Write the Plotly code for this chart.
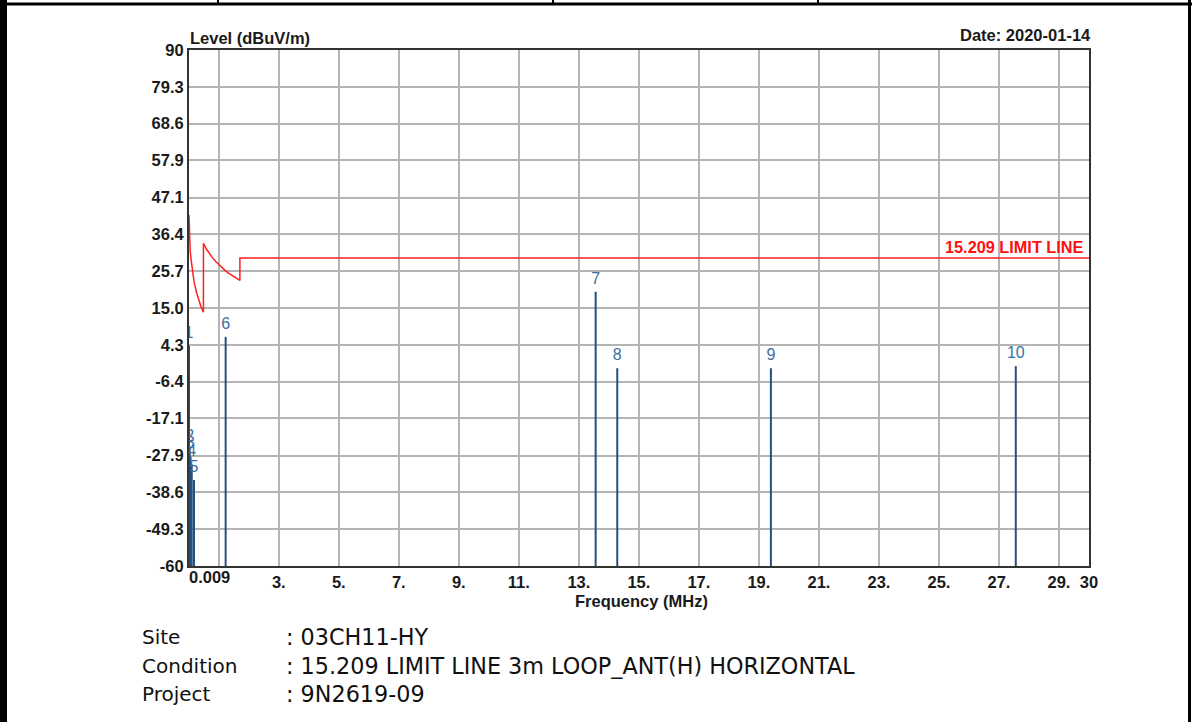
import plotly.graph_objects as go

# ---- data -------------------------------------------------------------
# 15.209 limit line (frequency in MHz, level in dBuV/m)
limit_freq = [0.009, 0.03, 0.05, 0.08, 0.12, 0.18, 0.26, 0.34, 0.42, 0.49,
              0.49, 0.6, 0.7, 0.8, 0.9, 1.0, 1.1, 1.2, 1.3, 1.4, 1.5, 1.6, 1.705,
              1.705, 30.0]
limit_level = [42.0, 36.0, 31.5, 29.0, 25.8, 22.5, 19.5, 17.0, 15.1, 13.8,
               33.8, 32.0, 30.7, 29.5, 28.5, 27.6, 26.8, 26.0, 25.3, 24.7, 24.1, 23.5, 23.0,
               29.5, 29.5]

# measured peaks
peak_no = ["1", "2", "3", "4", "5", "6", "7", "8", "9", "10"]
peak_freq = [0.009, 0.03, 0.06, 0.10, 0.176, 1.23, 13.56, 14.28, 19.40, 27.56]
peak_level = [4.0, -26.0, -28.2, -30.4, -35.0, 6.6, 19.7, -2.5, -2.5, -1.9]

y_ticks = [90, 79.3, 68.6, 57.9, 47.1, 36.4, 25.7, 15.0, 4.3, -6.4, -17.1, -27.9, -38.6, -49.3, -60]
y_tick_text = ["90", "79.3", "68.6", "57.9", "47.1", "36.4", "25.7", "15.0", "4.3",
               "-6.4", "-17.1", "-27.9", "-38.6", "-49.3", "-60"]
x_ticks = [1, 3, 5, 7, 9, 11, 13, 15, 17, 19, 21, 23, 25, 27, 29, 30]
x_tick_text = ["", "3.", "5.", "7.", "9.", "11.", "13.", "15.", "17.", "19.", "21.",
               "23.", "25.", "27.", "29.", "30"]

info_keys = ["Site", "Condition", "Project"]
info_vals = [": 03CH11-HY", ": 15.209 LIMIT LINE 3m LOOP_ANT(H) HORIZONTAL", ": 9N2619-09"]

# ---- layout geometry (pixels) -----------------------------------------
W, H = 1192, 722
L, R, T, B = 189, 1089, 50, 566


def px(x):
    return (x - L) / (R - L)


def py(y):
    return (B - y) / (B - T)


BOLD = "Liberation Sans"
BAR_COLOR = "#24507f"
LABEL_COLOR = "#3d6ea3"

fig = go.Figure()

# peak sticks
sx, sy = [], []
for f, v in zip(peak_freq, peak_level):
    sx += [f, f, None]
    sy += [-60, v, None]
fig.add_trace(go.Scatter(x=sx, y=sy, mode="lines", line=dict(color=BAR_COLOR, width=2),
                         hoverinfo="skip", showlegend=False))

# peak numbers (invisible markers give the text a small lift), clipped to the plot area
fig.add_trace(go.Scatter(x=peak_freq, y=peak_level, mode="markers+text", text=peak_no,
                         textposition="top center", cliponaxis=True,
                         marker=dict(size=5, color="rgba(0,0,0,0)"),
                         textfont=dict(family="Liberation Sans", size=16, color=LABEL_COLOR),
                         hoverinfo="skip", showlegend=False))

# limit line
fig.add_trace(go.Scatter(x=limit_freq, y=limit_level, mode="lines",
                         line=dict(color="#ff2020", width=1.5), showlegend=False))

annotations = [
    dict(xref="paper", yref="paper", x=px(188), y=py(38), text="<b>Level (dBuV/m)</b>",
         showarrow=False, xanchor="left", yanchor="middle",
         font=dict(family=BOLD, size=16.5, color="#1a1a1a")),
    dict(xref="paper", yref="paper", x=px(1093), y=py(35), text="<b>Date: 2020-01-14</b>",
         showarrow=False, xanchor="right", yanchor="middle",
         font=dict(family=BOLD, size=16.5, color="#1a1a1a")),
    dict(xref="paper", yref="paper", x=px(641), y=py(601), text="<b>Frequency (MHz)</b>",
         showarrow=False, xanchor="center", yanchor="middle",
         font=dict(family=BOLD, size=16.5, color="#1a1a1a")),
    dict(xref="paper", yref="paper", x=px(187), y=py(577), text="<b>0.009</b>",
         showarrow=False, xanchor="left", yanchor="middle",
         font=dict(family=BOLD, size=16.5, color="#1a1a1a")),
    dict(xref="paper", yref="paper", x=px(1086), y=py(247), text="<b>15.209 LIMIT LINE</b>",
         showarrow=False, xanchor="right", yanchor="middle",
         font=dict(family=BOLD, size=16.3, color="#ff1010")),
]

for i, (k, v) in enumerate(zip(info_keys, info_vals)):
    yy = py(637 + 28.5 * i)
    annotations.append(dict(xref="paper", yref="paper", x=px(140), y=yy, text=k,
                            showarrow=False, xanchor="left", yanchor="middle",
                            font=dict(family="DejaVu Sans", size=20, color="#111")))
    annotations.append(dict(xref="paper", yref="paper", x=px(284), y=yy, text=v,
                            showarrow=False, xanchor="left", yanchor="middle",
                            font=dict(family="DejaVu Sans", size=22.3, color="#111")))

# page frame
shapes = [
    dict(type="line", xref="paper", yref="paper", x0=px(3.5), x1=px(3.5), y0=py(0), y1=py(722),
         line=dict(color="black", width=7)),
    dict(type="line", xref="paper", yref="paper", x0=px(1189.5), x1=px(1189.5), y0=py(0), y1=py(722),
         line=dict(color="black", width=3)),
    dict(type="line", xref="paper", yref="paper", x0=px(0), x1=px(1192), y0=py(4), y1=py(4),
         line=dict(color="black", width=3)),
]
for xv in [218, 553, 818]:
    shapes.append(dict(type="line", xref="paper", yref="paper", x0=px(xv), x1=px(xv),
                       y0=py(0), y1=py(4), line=dict(color="black", width=2)))

fig.update_layout(
    width=W, height=H,
    margin=dict(l=L, r=W - R, t=T, b=H - B),
    paper_bgcolor="white", plot_bgcolor="white",
    showlegend=False,
    annotations=annotations,
    shapes=shapes,
    xaxis=dict(range=[0.009, 30], tickmode="array", tickvals=x_ticks, ticktext=x_tick_text,
               showgrid=True, gridcolor="#b4b4b4", gridwidth=2, zeroline=False,
               showline=True, mirror=True, linecolor="#333", linewidth=2, ticks="",
               tickfont=dict(family=BOLD, size=16.5, color="#1a1a1a", weight="bold")),
    yaxis=dict(range=[-60, 90], tickmode="array", tickvals=y_ticks, ticktext=y_tick_text,
               showgrid=True, gridcolor="#b4b4b4", gridwidth=2, zeroline=False,
               showline=True, mirror=True, linecolor="#333", linewidth=2, ticks="",
               tickfont=dict(family=BOLD, size=16.5, color="#1a1a1a", weight="bold")),
)

fig.write_html("out.html")
